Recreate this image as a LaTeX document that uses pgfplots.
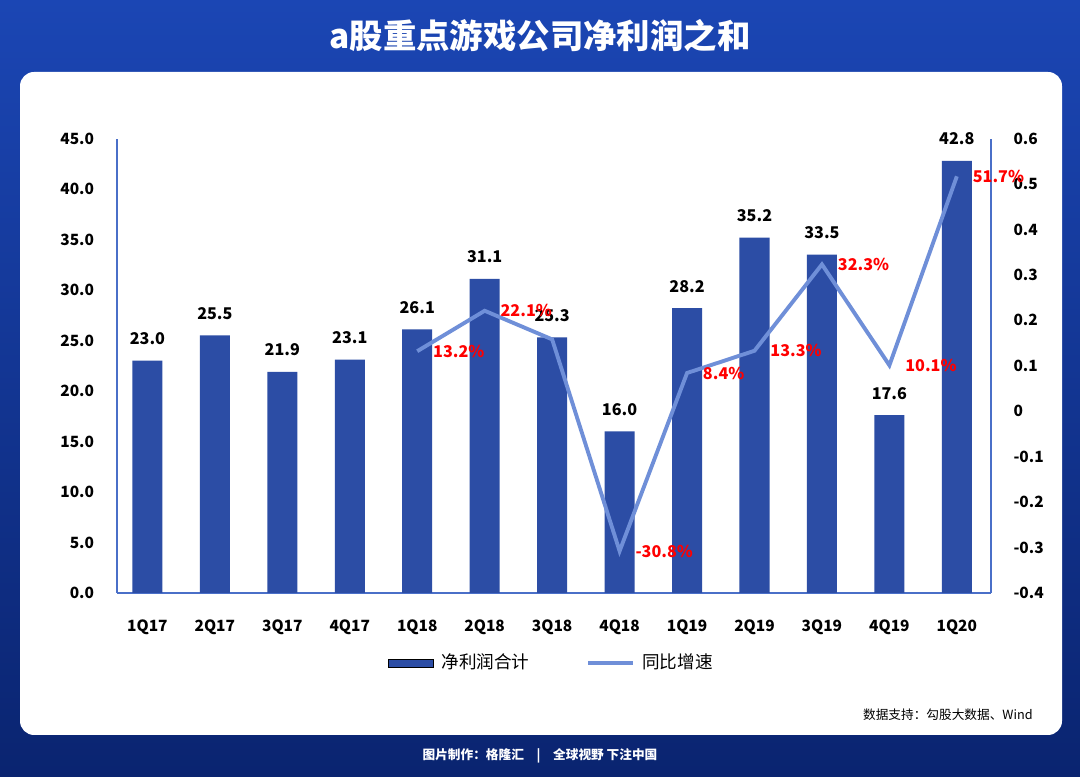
\documentclass[border=0pt]{standalone}
\usepackage{pgfplots}
\pgfplotsset{compat=1.18}
\usepackage{fontspec}
\setmainfont{Noto Sans CJK SC}
\definecolor{bgA}{HTML}{1B46B4}
\definecolor{bgB}{HTML}{0A2470}
\definecolor{barc}{HTML}{2C4DA5}
\definecolor{linec}{HTML}{6F8FD8}
\definecolor{axc}{HTML}{4A6FC8}
\begin{document}
\begin{tikzpicture}[x=0.01cm,y=0.01cm]
\shade[top color=bgA,bottom color=bgB] (0,0) rectangle (1080,777);
\fill[white,rounded corners=4pt] (20,42) rectangle (1062,705);
\node[white,font=\bfseries\fontsize{9.5}{11}\selectfont] at (540,741) {a股重点游戏公司净利润之和};
\node[anchor=east,font=\fontsize{3.6}{4.5}\selectfont] at (1045,62) {数据支持：勾股大数据、Wind};
\node[white,font=\bfseries\fontsize{3.6}{4.5}\selectfont] at (540,21) {图片制作：\textbf{格隆汇}\quad|\quad 全球视野\ 下注中国};
\begin{axis}[at={(117cm/100,184cm/100)},anchor=south west,scale only axis,
  width=8.73cm,height=4.54cm,
  xmin=-0.45,xmax=12.5,ymin=0,ymax=45,
  axis y line*=left,axis x line*=bottom,
  axis line style={axc,semithick},
  xtick=data,xticklabels={1Q17,2Q17,3Q17,4Q17,1Q18,2Q18,3Q18,4Q18,1Q19,2Q19,3Q19,4Q19,1Q20},
  ytick={0,5,...,45},
  yticklabel style={xshift=-3pt,/pgf/number format/.cd,fixed,fixed zerofill,precision=1},
  /pgf/number format/assume math mode=true,
  tick label style={font=\bfseries\fontsize{4.4}{5}\selectfont},
  xticklabel style={yshift=-4pt},
  major tick length=0pt,
  ybar,bar width=0.3cm,
  nodes near coords,
  every node near coord/.append style={font=\bfseries\fontsize{4.6}{5.5}\selectfont,black,yshift=1pt,
    /pgf/number format/.cd,fixed,fixed zerofill,precision=1},
  legend style={at={(0.5,-0.155)},anchor=center,draw=none,legend columns=2,
    font=\fontsize{5}{6}\selectfont,/tikz/every even column/.append style={column sep=0.5cm}},
  legend image code/.code={\draw[#1] (0cm,-0.04cm) rectangle (0.45cm,0.04cm);}
]
\addplot[fill=barc,draw=none] coordinates {(0,23.0)(1,25.5)(2,21.9)(3,23.1)(4,26.1)(5,31.1)(6,25.3)(7,16.0)(8,28.2)(9,35.2)(10,33.5)(11,17.6)(12,42.8)};
\addlegendentry{净利润合计}
\addlegendimage{linec,line width=1.1pt,legend image code/.code={\draw[linec,line width=1.1pt](0cm,0cm)--(0.45cm,0cm);}}
\addlegendentry{同比增速}
\end{axis}
\begin{axis}[at={(117cm/100,184cm/100)},anchor=south west,scale only axis,
  width=8.73cm,height=4.54cm,
  xmin=-0.45,xmax=12.5,ymin=-0.4,ymax=0.6,
  axis y line*=right,axis x line=none,
  axis line style={axc,semithick},
  ytick={-0.4,-0.3,...,0.6},
  yticklabel style={xshift=3pt,/pgf/number format/.cd,fixed,precision=1},
  /pgf/number format/assume math mode=true,
  tick label style={font=\bfseries\fontsize{4.4}{5}\selectfont},
  major tick length=0pt,
]
\addplot[linec,line width=1.1pt,mark=none] coordinates {(4,0.132)(5,0.221)(6,0.158)(7,-0.308)(8,0.084)(9,0.133)(10,0.323)(11,0.101)(12,0.517)};
\addplot[only marks,mark=none,
  nodes near coords,point meta=explicit symbolic,
  every node near coord/.append style={red,font=\bfseries\fontsize{4.6}{5.5}\selectfont,anchor=west,xshift=1pt}]
  coordinates {(4,0.132)[13.2\%] (5,0.221)[22.1\%] (7,-0.308)[-30.8\%] (8,0.084)[8.4\%] (9,0.133)[13.3\%] (10,0.323)[32.3\%] (11,0.101)[10.1\%] (12,0.517)[51.7\%]};
\end{axis}
\end{tikzpicture}
\end{document}
